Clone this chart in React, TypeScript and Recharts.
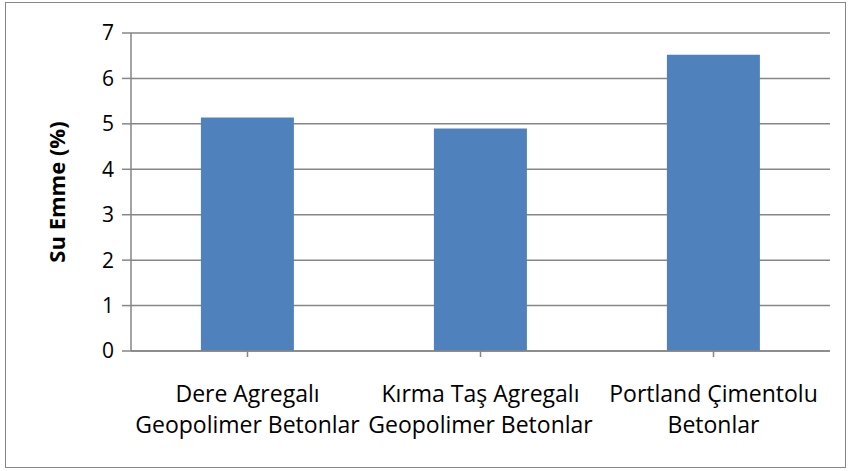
import { Bar, BarChart, CartesianGrid, XAxis, YAxis } from 'recharts';

const categories = [
  ['Dere Agregalı', 'Geopolimer Betonlar'],
  ['Kırma Taş Agregalı', 'Geopolimer Betonlar'],
  ['Portland Çimentolu', 'Betonlar'],
];
const suEmme = [5.14, 4.9, 6.52];
const yTicks = [0, 1, 2, 3, 4, 5, 6, 7];

const FONT = 'Open Sans, sans-serif';
const AXIS = '#868686';

const data = categories.map((lines, i) => ({ name: lines.join('\n'), value: suEmme[i] }));

function CategoryTick(props: any) {
  const { x, y, payload } = props;
  const lines = String(payload.value).split('\n');
  return (
    <text x={x} y={y} textAnchor="middle" fontFamily={FONT} fontSize={23} fill="#000">
      {lines.map((l, i) => (
        <tspan key={i} x={x} dy={i === 0 ? 43 : 31}>
          {l}
        </tspan>
      ))}
    </text>
  );
}

export default function App() {
  return (
    <div style={{ position: 'absolute', left: 0, top: 0, width: 849, height: 471, background: '#fff' }}>
      <div
        style={{
          position: 'absolute',
          left: 5,
          top: 2,
          width: 839,
          height: 464,
          border: '1.5px solid #868686',
          pointerEvents: 'none',
        }}
      />
      <BarChart
        width={849}
        height={471}
        data={data}
        margin={{ top: 33, right: 19, left: 0, bottom: 0 }}
        barCategoryGap="30%"
      >
        <CartesianGrid vertical={false} stroke={AXIS} strokeWidth={1.5} />
        <XAxis
          dataKey="name"
          height={120}
          interval={0}
          tick={<CategoryTick />}
          tickLine={{ stroke: AXIS, strokeWidth: 1.5 }}
          axisLine={{ stroke: AXIS, strokeWidth: 1.5 }}
          tickSize={6}
        />
        <YAxis
          width={131}
          domain={[0, 7]}
          ticks={yTicks}
          interval={0}
          tickSize={9}
          tickMargin={8}
          tick={{ fontFamily: FONT, fontSize: 21, fill: '#000' }}
          tickLine={{ stroke: AXIS, strokeWidth: 1.5 }}
          axisLine={{ stroke: AXIS, strokeWidth: 1.5 }}
          label={{
            value: 'Su Emme (%)',
            angle: -90,
            position: 'insideLeft',
            dx: 52,
            dy: 0,
            style: { fontFamily: FONT, fontSize: 22, fontWeight: 'bold', fill: '#000', textAnchor: 'middle' },
          }}
        />
        <Bar dataKey="value" fill="#4f81bd" isAnimationActive={false} />
      </BarChart>
    </div>
  );
}
